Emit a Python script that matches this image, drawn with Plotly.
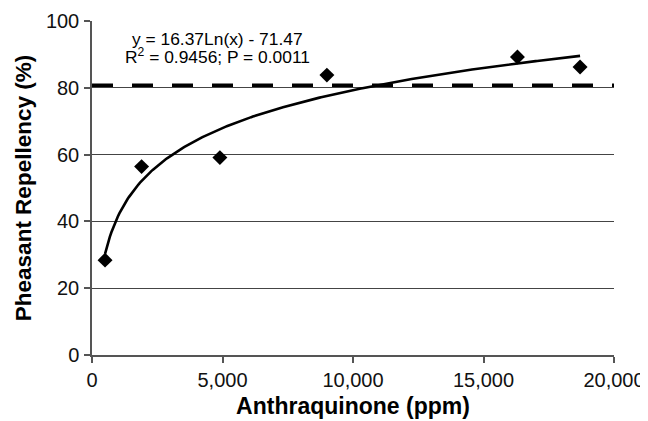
import numpy as np
import plotly.graph_objects as go

# Data
anthraquinone_ppm = [500, 1900, 4900, 9000, 16300, 18700]
repellency_pct = [28.4, 56.4, 59.1, 83.8, 89.2, 86.2]

# Logarithmic trendline shown on the chart: y = a*ln(x) + b
fit_a = 16.37
fit_b = -71.47
threshold_pct = 80.8

x_ticks = [0, 5000, 10000, 15000, 20000]
y_ticks = [0, 20, 40, 60, 80, 100]

FONT = "Liberation Sans, Arial, sans-serif"

xfit = np.linspace(min(anthraquinone_ppm), max(anthraquinone_ppm), 300)
yfit = fit_a * np.log(xfit) + fit_b

fig = go.Figure()
fig.add_trace(go.Scatter(x=xfit, y=yfit, mode="lines",
                         line=dict(color="black", width=2.6),
                         showlegend=False, hoverinfo="skip"))
fig.add_trace(go.Scatter(x=anthraquinone_ppm, y=repellency_pct, mode="markers",
                         marker=dict(symbol="diamond", size=11.5, color="black"),
                         showlegend=False))

fig.add_shape(type="line", xref="paper", x0=0, x1=1, yref="y",
              y0=threshold_pct, y1=threshold_pct,
              line=dict(color="black", width=3.5, dash="21px,19px"))

fig.add_annotation(x=4800, y=94.6, xref="x", yref="y",
                   text="y = 16.37Ln(x) - 71.47", showarrow=False,
                   font=dict(family=FONT, size=17.4, color="black"))
fig.add_annotation(x=4800, y=89.6, xref="x", yref="y",
                   text="R<sup>2</sup> = 0.9456; P = 0.0011", showarrow=False,
                   font=dict(family=FONT, size=17.4, color="black"))

# The page has an 8px body margin, so the figure is drawn 8px in from the window edge.
fig.update_layout(
    width=640, height=413,
    margin=dict(l=84, r=34, t=13, b=66, autoexpand=False),
    paper_bgcolor="white", plot_bgcolor="white",
    font=dict(family=FONT, size=20, color="black"),
    xaxis=dict(range=[0, 20000], tickvals=x_ticks, tickformat=",d",
               automargin=False,
               showgrid=False, zeroline=False,
               showline=True, linecolor="#555", linewidth=1.5,
               ticks="outside", ticklen=6, tickcolor="#555", tickwidth=1.5,
               tickfont=dict(family=FONT, size=20, color="#111"),
               title=dict(text="<b>Anthraquinone (ppm)</b>", standoff=8,
                          font=dict(family=FONT, size=23, color="black"))),
    yaxis=dict(range=[0, 100], tickvals=y_ticks,
               automargin=False,
               showgrid=True, gridcolor="#444", gridwidth=1,
               zeroline=False,
               showline=True, linecolor="#555", linewidth=1.5,
               ticks="outside", ticklen=6, tickcolor="#555", tickwidth=1.5,
               ticklabelstandoff=1,
               tickfont=dict(family=FONT, size=20, color="#111"),
               title=dict(text="<b>Pheasant Repellency (%)</b>", standoff=8,
                          font=dict(family=FONT, size=22.5, color="black"))),
)

fig.write_html("out.html")
